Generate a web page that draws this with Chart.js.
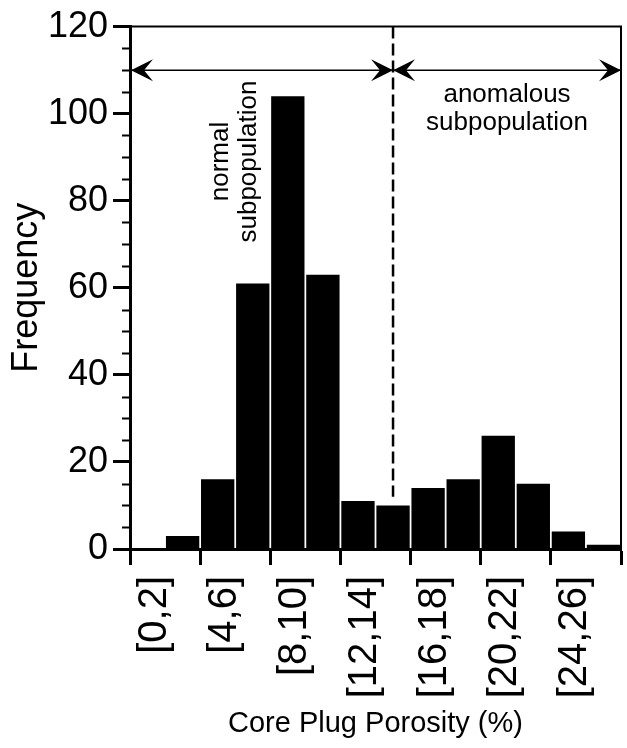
<!DOCTYPE html>
<html>
<head>
<meta charset="utf-8">
<script src="https://cdn.jsdelivr.net/npm/chart.js@4/dist/chart.umd.min.js"></script>
<style>
  html, body { margin: 0; padding: 0; background: #fff; }
  #wrap { width: 627px; height: 748px; }
</style>
</head>
<body>
<div id="wrap"><canvas id="c" width="627" height="748"></canvas></div>
<script>
// Porosity bins (2 % wide) and the number of core plugs in each
const bins = ['[0,2]', '[2,4]', '[4,6]', '[6,8]', '[8,10]', '[10,12]', '[12,14]',
              '[14,16]', '[16,18]', '[18,20]', '[20,22]', '[22,24]', '[24,26]', '[26,28]'];
const counts = [0, 3, 16, 61, 104, 63, 11, 10, 14, 16, 26, 15, 4, 1];

// Frequency axis ticks (labelled) and the minor tick step
const yTicks = [0, 20, 40, 60, 80, 100, 120];
const minorStep = 5;

// Split between the two subpopulations (porosity, %) and the arrow level (frequency)
const binWidth = 2;
const porosityMin = 0;
const porosityMax = 28;
const cutoff = 15;
const arrowLevel = 110;
const cutoffLineBottom = 12;

const FONT = "'Liberation Sans', Arial, Helvetica, sans-serif";

// porosity (%) -> pixel via the category scale (bin i is centred on index i)
function porosityPx(scale, p) {
  return scale.getPixelForValue((p - binWidth / 2) / binWidth);
}

function arrowHead(ctx, tipX, y, dir) {
  // dir = +1 points right, -1 points left
  ctx.beginPath();
  ctx.moveTo(tipX, y);
  ctx.lineTo(tipX - dir * 22, y - 11);
  ctx.lineTo(tipX - dir * 13, y);
  ctx.lineTo(tipX - dir * 22, y + 11);
  ctx.closePath();
  ctx.fill();
}

const decorations = {
  id: 'decorations',
  afterDatasetsDraw(chart) {
    const { ctx, chartArea: a } = chart;
    const xs = chart.scales.x, ys = chart.scales.y;
    ctx.save();
    ctx.strokeStyle = '#000';
    ctx.fillStyle = '#000';

    // frame: top and right edges
    ctx.lineWidth = 2;
    ctx.beginPath();
    ctx.moveTo(a.left, a.top);
    ctx.lineTo(a.right, a.top);
    ctx.lineTo(a.right, a.bottom);
    ctx.stroke();

    // minor ticks on the frequency axis
    ctx.lineWidth = 2;
    for (let v = ys.min; v <= ys.max; v += minorStep) {
      if (yTicks.includes(v)) continue;
      const y = Math.round(ys.getPixelForValue(v)) + 0.5;
      ctx.beginPath();
      ctx.moveTo(a.left - 8, y);
      ctx.lineTo(a.left, y);
      ctx.stroke();
    }

    // dashed split line
    const xc = porosityPx(xs, cutoff);
    ctx.lineWidth = 2.5;
    ctx.setLineDash([12, 5]);
    ctx.beginPath();
    ctx.moveTo(xc, ys.getPixelForValue(ys.max));
    ctx.lineTo(xc, ys.getPixelForValue(cutoffLineBottom));
    ctx.stroke();
    ctx.setLineDash([]);

    // double-headed arrows
    const ya = ys.getPixelForValue(arrowLevel);
    const x0 = porosityPx(xs, porosityMin);
    const x1 = porosityPx(xs, porosityMax);
    ctx.lineWidth = 1.5;
    ctx.beginPath();
    ctx.moveTo(x0, ya);
    ctx.lineTo(x1, ya);
    ctx.stroke();
    arrowHead(ctx, x0 + 1, ya, -1);
    arrowHead(ctx, xc, ya, 1);
    arrowHead(ctx, xc, ya, -1);
    arrowHead(ctx, x1, ya, 1);

    // labels for the two subpopulations
    ctx.font = '26px ' + FONT;
    ctx.textAlign = 'center';
    ctx.textBaseline = 'middle';
    const nx = porosityPx(xs, 6.0), ny = ys.getPixelForValue(89);
    ctx.save();
    ctx.translate(nx, ny);
    ctx.rotate(-Math.PI / 2);
    ctx.fillText('normal', 0, -14);
    ctx.fillText('subpopulation', 0, 14);
    ctx.restore();

    const ax = porosityPx(xs, 21.5), ay = ys.getPixelForValue(101);
    ctx.fillText('anomalous', ax, ay - 14);
    ctx.fillText('subpopulation', ax, ay + 14);
    ctx.restore();
  }
};

new Chart(document.getElementById('c'), {
  type: 'bar',
  data: {
    labels: bins,
    datasets: [{
      data: counts,
      backgroundColor: '#000',
      borderWidth: 0,
      barPercentage: 1,
      categoryPercentage: 0.95
    }]
  },
  options: {
    responsive: false,
    animation: false,
    events: [],
    layout: { padding: { top: 25, right: 6, left: 0, bottom: 0 } },
    plugins: { legend: { display: false }, tooltip: { enabled: false } },
    scales: {
      x: {
        afterFit: s => { s.height = 199; s.paddingLeft = 0; s.paddingRight = 0; },
        border: { display: true, color: '#000', width: 3 },
        grid: {
          offset: true,
          drawOnChartArea: false,
          drawTicks: true,
          tickLength: 16,
          tickWidth: 3,
          tickColor: c => (c.index === undefined || c.index % 2 === 0) ? '#000' : 'rgba(0,0,0,0)'
        },
        ticks: {
          autoSkip: false,
          minRotation: 90,
          maxRotation: 90,
          padding: 11,
          labelOffset: 7,
          color: '#000',
          font: { family: FONT, size: 40 },
          callback: (v, i) => (i % 2 === 0 ? bins[i] : '')
        },
        title: {
          display: true,
          text: 'Core Plug Porosity (%)',
          color: '#000',
          font: { family: FONT, size: 29 },
          padding: { top: 0, bottom: 7 }
        }
      },
      y: {
        min: 0,
        max: 120,
        afterFit: s => { s.width = 130; },
        afterBuildTicks: s => { s.ticks = yTicks.map(v => ({ value: v })); },
        border: { display: true, color: '#000', width: 3 },
        grid: {
          drawOnChartArea: false,
          drawTicks: true,
          tickLength: 17,
          tickWidth: 3,
          tickColor: '#000'
        },
        ticks: {
          padding: 5,
          color: '#000',
          font: { family: FONT, size: 36 }
        },
        title: {
          display: true,
          text: 'Frequency',
          color: '#000',
          font: { family: FONT, size: 36 },
          padding: { top: 5, bottom: 0 }
        }
      }
    }
  },
  plugins: [decorations]
});
</script>
</body>
</html>
